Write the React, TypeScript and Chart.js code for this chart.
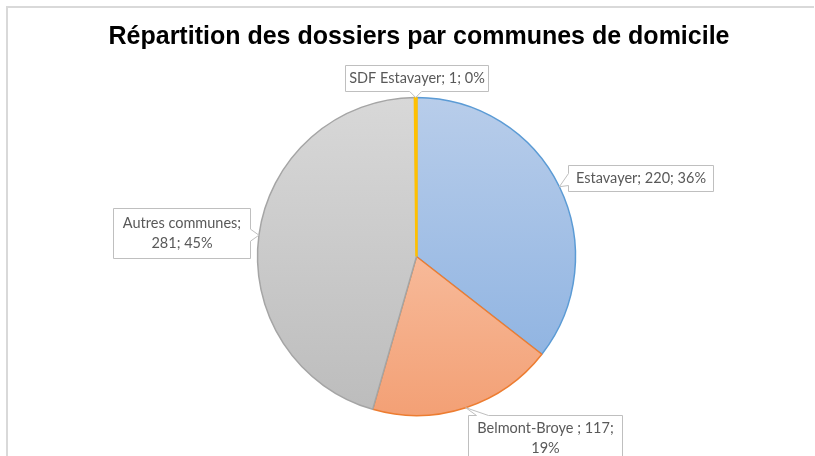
import React, { useEffect, useRef } from "react";
import { Chart, registerables } from "chart.js";

Chart.register(...registerables);

const TITLE = "Répartition des dossiers par communes de domicile";
const categories = ["Estavayer", "Belmont-Broye ", "Autres communes", "SDF Estavayer"];
const values = [220, 117, 281, 1];

// colours: [top of gradient, bottom of gradient, border]
const gradTop = ["#b8cdea", "#fbd3bd", "#d8d8d8", "#ffc000"];
const gradBottom = ["#88afe0", "#f3a075", "#bcbcbc", "#ffc000"];
const borders = ["#5b9bd5", "#ed7d31", "#a5a5a5", "#ffc000"];
const borderWidths = [1.5, 1.5, 1.5, 2.5];

// label boxes relative to pie centre: left, top, width, height, words on first line (0 = single line)
const labelBoxes = [
  { l: 151.5, t: -91.5, w: 145, h: 26, br: 0 },
  { l: 51.5, t: 158.5, w: 154, h: 46, br: 3 },
  { l: -303.5, t: -48.5, w: 137, h: 50, br: 2 },
  { l: -71.5, t: -191.5, w: 143, h: 26, br: 0 },
];

const LABEL_FONT = "14.5px Lato, 'Open Sans', sans-serif";

function calloutPath(ctx: CanvasRenderingContext2D, L: number, T: number, W: number, H: number, tx: number, ty: number) {
  const R = L + W;
  const B = T + H;
  let side = "right";
  if (ty > B) side = "bottom";
  else if (ty < T) side = "top";
  else if (tx < L) side = "left";
  const hw = 6;
  const m = 14;
  const clamp = (v: number, a: number, b: number) => Math.max(a, Math.min(b, v));
  const cx = clamp(tx, L + m, R - m);
  const cy = clamp(ty, T + m, B - m);
  ctx.beginPath();
  ctx.moveTo(L, T);
  if (side === "top") {
    ctx.lineTo(cx - hw, T);
    ctx.lineTo(tx, ty);
    ctx.lineTo(cx + hw, T);
  }
  ctx.lineTo(R, T);
  if (side === "right") {
    ctx.lineTo(R, cy - hw);
    ctx.lineTo(tx, ty);
    ctx.lineTo(R, cy + hw);
  }
  ctx.lineTo(R, B);
  if (side === "bottom") {
    ctx.lineTo(cx + hw, B);
    ctx.lineTo(tx, ty);
    ctx.lineTo(cx - hw, B);
  }
  ctx.lineTo(L, B);
  if (side === "left") {
    ctx.lineTo(L, cy + hw);
    ctx.lineTo(tx, ty);
    ctx.lineTo(L, cy - hw);
  }
  ctx.closePath();
}

const framePlugin = {
  id: "frame",
  beforeDraw(chart: any) {
    const ctx = chart.ctx as CanvasRenderingContext2D;
    ctx.save();
    ctx.fillStyle = "#ffffff";
    ctx.fillRect(0, 0, chart.width, chart.height);
    ctx.strokeStyle = "#d9d9d9";
    ctx.lineWidth = 2;
    ctx.beginPath();
    ctx.moveTo(7, chart.height + 5);
    ctx.lineTo(7, 7);
    ctx.lineTo(chart.width - 1, 7);
    ctx.stroke();
    ctx.fillStyle = "#000000";
    ctx.font = "bold 25px 'Liberation Sans', Arial, sans-serif";
    ctx.textAlign = "center";
    ctx.textBaseline = "middle";
    ctx.fillText(TITLE, 419, 37);
    ctx.restore();
  },
};

const labelPlugin = {
  id: "calloutLabels",
  afterDatasetsDraw(chart: any) {
    const ctx = chart.ctx as CanvasRenderingContext2D;
    const meta = chart.getDatasetMeta(0);
    const total = values.reduce((a, b) => a + b, 0);
    ctx.save();
    meta.data.forEach((arc: any, i: number) => {
      const p = arc.getProps(["x", "y", "startAngle", "endAngle", "outerRadius"], true);
      const mid = (p.startAngle + p.endAngle) / 2;
      const tx = p.x + Math.cos(mid) * p.outerRadius;
      const ty = p.y + Math.sin(mid) * p.outerRadius;
      const box = labelBoxes[i];
      const L = Math.round(p.x + box.l) + 0.5;
      const T = Math.round(p.y + box.t) + 0.5;
      calloutPath(ctx, L, T, box.w, box.h, tx, ty);
      ctx.fillStyle = "#ffffff";
      ctx.fill();
      ctx.strokeStyle = "#bfbfbf";
      ctx.lineWidth = 1;
      ctx.stroke();
      const pct = Math.round((values[i] / total) * 100) + "%";
      const text = `${categories[i]}; ${values[i]}; ${pct}`;
      const words = text.split(" ");
      let lines: string[];
      if (box.br > 0) {
        lines = [words.slice(0, box.br).join(" "), words.slice(box.br).join(" ")];
      } else {
        lines = [text];
      }
      ctx.fillStyle = "#595959";
      ctx.font = LABEL_FONT;
      ctx.textAlign = "center";
      ctx.textBaseline = "middle";
      const lh = 20;
      const cx = L + box.w / 2;
      const top = T + box.h / 2 - ((lines.length - 1) * lh) / 2;
      lines.forEach((ln, k) => ctx.fillText(ln, cx, top + k * lh));
    });
    ctx.restore();
  },
};

export default function App() {
  const ref = useRef<HTMLCanvasElement | null>(null);
  useEffect(() => {
    if (!ref.current) return;
    const makeGrad = (ctx: any, i: number) => {
      const chart = ctx.chart;
      const area = chart.chartArea;
      if (!area) return gradTop[i];
      const meta = chart.getDatasetMeta(0);
      const el = meta.data[i];
      const r = (el && el.outerRadius) || 159;
      const cy = (area.top + area.bottom) / 2;
      const g = chart.ctx.createLinearGradient(0, cy - r, 0, cy + r);
      g.addColorStop(0, gradTop[i]);
      g.addColorStop(1, gradBottom[i]);
      return g;
    };
    const chart = new Chart(ref.current, {
      type: "pie",
      data: {
        labels: categories,
        datasets: [
          {
            data: values,
            backgroundColor: (c: any) => makeGrad(c, c.dataIndex),
            borderColor: borders,
            borderWidth: borderWidths,
            radius: 159,
          } as any,
        ],
      },
      options: {
        responsive: false,
        animation: false,
        devicePixelRatio: 1,
        layout: { padding: { top: 97.5, bottom: 40.5, left: 18, right: 0 } },
        plugins: {
          legend: { display: false },
          tooltip: { enabled: false },
          title: { display: false },
        },
      },
      plugins: [framePlugin, labelPlugin],
    });
    return () => chart.destroy();
  }, []);
  return (
    <div style={{ position: "fixed", left: 0, top: 0, width: 815, height: 456, background: "#fff" }}>
      <canvas ref={ref} width={815} height={456} />
    </div>
  );
}
